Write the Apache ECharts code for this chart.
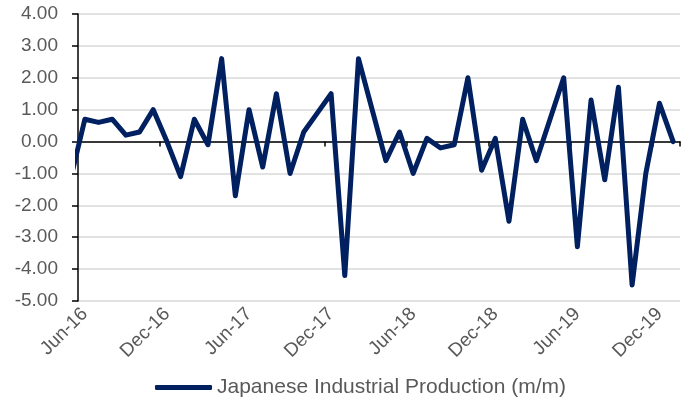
<!DOCTYPE html>
<html>
<head>
<meta charset="utf-8">
<script src="https://cdn.jsdelivr.net/npm/echarts@6/dist/echarts.min.js"></script>
<style>
  html, body { margin: 0; padding: 0; background: #fff; }
  #chart { width: 688px; height: 401px; }
</style>
</head>
<body>
<div id="chart"></div>
<script>
const months = [
  "Jun-16", "Jul-16", "Aug-16", "Sep-16", "Oct-16", "Nov-16",
  "Dec-16", "Jan-17", "Feb-17", "Mar-17", "Apr-17", "May-17",
  "Jun-17", "Jul-17", "Aug-17", "Sep-17", "Oct-17", "Nov-17",
  "Dec-17", "Jan-18", "Feb-18", "Mar-18", "Apr-18", "May-18",
  "Jun-18", "Jul-18", "Aug-18", "Sep-18", "Oct-18", "Nov-18",
  "Dec-18", "Jan-19", "Feb-19", "Mar-19", "Apr-19", "May-19",
  "Jun-19", "Jul-19", "Aug-19", "Sep-19", "Oct-19", "Nov-19",
  "Dec-19", "Jan-20"
];

// m/m % change, one per month above
const ipValues = [
  0.7, 0.6, 0.7, 0.2, 0.3, 1.0,
  0.0, -1.1, 0.7, -0.1, 2.6, -1.7,
  1.0, -0.8, 1.5, -1.0, 0.3, 0.9,
  1.5, -4.2, 2.6, 1.0, -0.6, 0.3,
  -1.0, 0.1, -0.2, -0.1, 2.0, -0.9,
  0.1, -2.5, 0.7, -0.6, 0.7, 2.0,
  -3.3, 1.3, -1.2, 1.7, -4.5, -1.0,
  1.2, 0.0
];

// May-16, only the tail of its segment shows at the left edge
const priorValue = -1.1;

const seriesName = "Japanese Industrial Production (m/m)";
const textColor = "#595959";
const lineColor = "#002060";
const font = "Liberation Sans, Arial, sans-serif";

const lineData = [[-1, priorValue]].concat(ipValues.map((v, i) => [i, v]));

const chart = echarts.init(document.getElementById("chart"));

chart.setOption({
  animation: false,
  grid: { left: 78, right: 8, top: 14, bottom: 100 },
  legend: {
    data: [seriesName],
    left: 150,
    top: 372,
    icon: "roundRect",
    itemWidth: 57,
    itemHeight: 5,
    itemStyle: { color: lineColor },
    textStyle: { color: textColor, fontSize: 21, fontFamily: font }
  },
  xAxis: [
    {
      // labels only
      type: "category",
      data: months,
      position: "bottom",
      boundaryGap: true,
      axisLine: { show: false, onZero: false },
      axisTick: { show: false },
      splitLine: { show: false },
      axisLabel: {
        interval: 5,
        rotate: 45,
        margin: 10,
        color: textColor,
        fontSize: 19,
        fontFamily: font
      }
    },
    {
      // zero line with ticks
      type: "category",
      data: months,
      position: "bottom",
      boundaryGap: true,
      axisLine: { show: true, onZero: true, lineStyle: { color: "#000", width: 1.5 } },
      axisTick: { show: true, interval: 5, length: 5, lineStyle: { color: "#000", width: 1.5 } },
      axisLabel: { show: false },
      splitLine: { show: false }
    },
    {
      type: "value",
      min: -0.5,
      max: 43.5,
      show: false
    }
  ],
  yAxis: {
    type: "value",
    min: -5,
    max: 4,
    interval: 1,
    axisLine: { show: true, onZero: false, lineStyle: { color: "#000", width: 1.5 } },
    axisTick: { show: true, length: 6, lineStyle: { color: "#000", width: 1.5 } },
    splitLine: { show: true, lineStyle: { color: "#d9d9d9", width: 1.5 } },
    axisLabel: {
      margin: 20,
      color: textColor,
      fontSize: 19,
      fontFamily: font,
      formatter: (v) => v.toFixed(2)
    }
  },
  series: [
    {
      name: seriesName,
      type: "line",
      xAxisIndex: 2,
      data: lineData,
      symbol: "none",
      clip: true,
      lineStyle: { color: lineColor, width: 5, join: "round", cap: "round" },
      itemStyle: { color: lineColor }
    }
  ]
});
</script>
</body>
</html>
